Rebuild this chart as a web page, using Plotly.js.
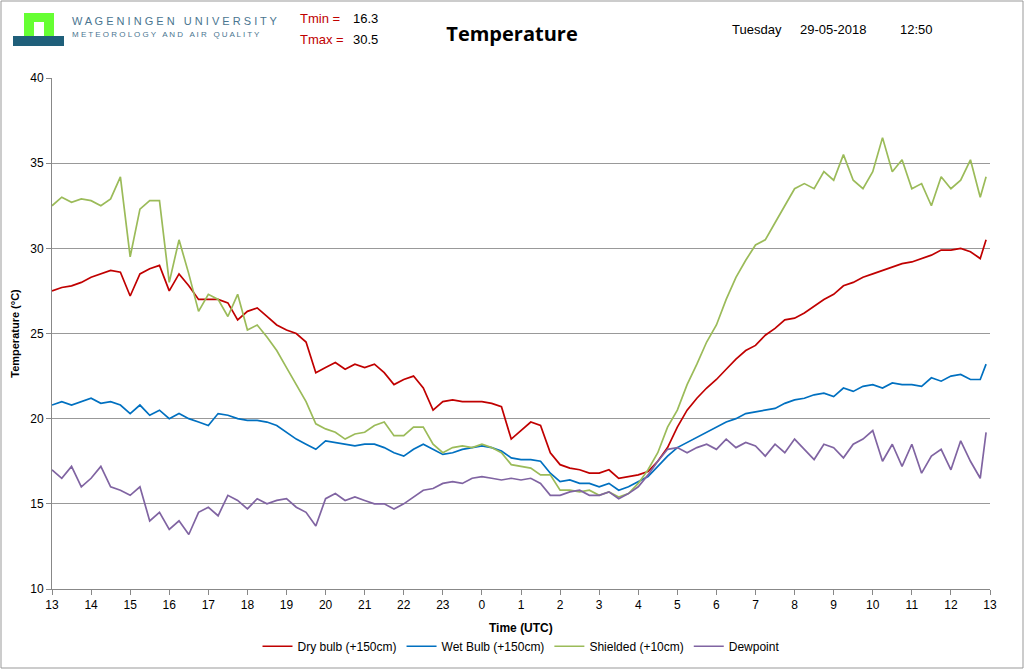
<!DOCTYPE html>
<html>
<head>
<meta charset="utf-8">
<script src="https://cdn.plot.ly/plotly-3.0.1.min.js"></script>
<style>body{margin:0;background:#fff}#chart{width:1024px;height:669px}</style>
</head>
<body>
<div id="chart"></div>
<script>
// hours since 13:00 UTC
const hours = [0,0.25,0.5,0.75,1,1.25,1.5,1.75,2,2.25,2.5,2.75,3,3.25,3.5,3.75,4,4.25,4.5,4.75,
  5,5.25,5.5,5.75,6,6.25,6.5,6.75,7,7.25,7.5,7.75,8,8.25,8.5,8.75,9,9.25,9.5,9.75,
  10,10.25,10.5,10.75,11,11.25,11.5,11.75,12,12.25,12.5,12.75,13,13.25,13.5,13.75,14,14.25,14.5,14.75,
  15,15.25,15.5,15.75,16,16.25,16.5,16.75,17,17.25,17.5,17.75,18,18.25,18.5,18.75,19,19.25,19.5,19.75,
  20,20.25,20.5,20.75,21,21.25,21.5,21.75,22,22.25,22.5,22.75,23,23.25,23.5,23.75,23.9];

const dryBulb = [27.5,27.7,27.8,28.0,28.3,28.5,28.7,28.6,27.2,28.5,28.8,29.0,27.5,28.5,27.8,27.0,27.0,27.0,26.8,25.8,
  26.3,26.5,26.0,25.5,25.2,25.0,24.5,22.7,23.0,23.3,22.9,23.2,23.0,23.2,22.7,22.0,22.3,22.5,21.8,20.5,
  21.0,21.1,21.0,21.0,21.0,20.9,20.7,18.8,19.3,19.8,19.6,18.0,17.3,17.1,17.0,16.8,16.8,17.0,16.5,16.6,
  16.7,16.9,17.5,18.3,19.5,20.5,21.2,21.8,22.3,22.9,23.5,24.0,24.3,24.9,25.3,25.8,25.9,26.2,26.6,27.0,
  27.3,27.8,28.0,28.3,28.5,28.7,28.9,29.1,29.2,29.4,29.6,29.9,29.9,30.0,29.8,29.4,30.5];

const wetBulb = [20.8,21.0,20.8,21.0,21.2,20.9,21.0,20.8,20.3,20.8,20.2,20.5,20.0,20.3,20.0,19.8,19.6,20.3,20.2,20.0,
  19.9,19.9,19.8,19.6,19.2,18.8,18.5,18.2,18.7,18.6,18.5,18.4,18.5,18.5,18.3,18.0,17.8,18.2,18.5,18.2,
  17.9,18.0,18.2,18.3,18.4,18.3,18.1,17.7,17.6,17.6,17.5,16.8,16.3,16.4,16.2,16.2,16.0,16.2,15.8,16.0,
  16.3,16.6,17.2,17.8,18.3,18.6,18.9,19.2,19.5,19.8,20.0,20.3,20.4,20.5,20.6,20.9,21.1,21.2,21.4,21.5,
  21.3,21.8,21.6,21.9,22.0,21.8,22.1,22.0,22.0,21.9,22.4,22.2,22.5,22.6,22.3,22.3,23.2];

const shielded = [32.5,33.0,32.7,32.9,32.8,32.5,32.9,34.2,29.5,32.3,32.8,32.8,28.0,30.5,28.5,26.3,27.3,27.0,26.0,27.3,
  25.2,25.5,24.8,24.0,23.0,22.0,21.0,19.7,19.4,19.2,18.8,19.1,19.2,19.6,19.8,19.0,19.0,19.5,19.5,18.5,
  18.0,18.3,18.4,18.3,18.5,18.3,18.0,17.3,17.2,17.1,16.7,16.7,15.8,15.8,15.7,15.8,15.5,15.7,15.4,15.6,
  16.2,17.0,18.0,19.5,20.5,22.0,23.2,24.5,25.5,27.0,28.3,29.3,30.2,30.5,31.5,32.5,33.5,33.8,33.5,34.5,
  34.0,35.5,34.0,33.5,34.5,36.5,34.5,35.2,33.5,33.8,32.5,34.2,33.5,34.0,35.2,33.0,34.2];

const dewpoint = [17.0,16.5,17.2,16.0,16.5,17.2,16.0,15.8,15.5,16.0,14.0,14.5,13.5,14.0,13.2,14.5,14.8,14.3,15.5,15.2,
  14.7,15.3,15.0,15.2,15.3,14.8,14.5,13.7,15.3,15.6,15.2,15.4,15.2,15.0,15.0,14.7,15.0,15.4,15.8,15.9,
  16.2,16.3,16.2,16.5,16.6,16.5,16.4,16.5,16.4,16.5,16.2,15.5,15.5,15.7,15.8,15.5,15.5,15.7,15.3,15.6,
  16.0,16.7,17.5,18.2,18.3,18.0,18.3,18.5,18.2,18.8,18.3,18.6,18.4,17.8,18.5,18.0,18.8,18.2,17.6,18.5,
  18.3,17.7,18.5,18.8,19.3,17.5,18.5,17.2,18.5,16.8,17.8,18.2,17.0,18.7,17.5,16.5,19.2];

const tickPos = [0,1,2,3,4,5,6,7,8,9,10,11,12,13,14,15,16,17,18,19,20,21,22,23,24];
const tickText = ['13','14','15','16','17','18','19','20','21','22','23','0','1','2','3','4','5','6','7','8','9','10','11','12','13'];

const names = ['Dry bulb (+150cm)', 'Wet Bulb (+150cm)', 'Shielded (+10cm)', 'Dewpoint'];
const colors = ['#c00000', '#0070c0', '#9bbb59', '#8064a2'];
const series = [dryBulb, wetBulb, shielded, dewpoint];

const traces = series.map((s, i) => ({
  x: hours, y: s, name: names[i], type: 'scatter', mode: 'lines',
  line: {color: colors[i], width: 1.7}
}));

// pixel -> paper helpers (plot area 52..990 x 78..589)
const px = v => (v - 52) / 938;
const py = v => (589 - v) / 511;

const txt = (x, y, text, opts) => Object.assign({
  xref: 'paper', yref: 'paper', x: px(x), y: py(y), text: text, showarrow: false,
  xanchor: 'left', yanchor: 'middle', font: {family: 'Liberation Sans, Arial', size: 12, color: '#000'}
}, opts || {});

const layout = {
  width: 1024, height: 669,
  margin: {l: 52, r: 34, t: 78, b: 80},
  paper_bgcolor: '#fff', plot_bgcolor: '#fff',
  font: {family: 'Liberation Sans, Arial', size: 12, color: '#000'},
  title: {text: '<b>Temperature</b>', x: 0.5, y: 0.96, xanchor: 'center', font: {size: 20, family: 'Open Sans, Liberation Sans'}},
  xaxis: {
    range: [0, 24], tickvals: tickPos, ticktext: tickText, showgrid: false, zeroline: false, automargin: false,
    showline: true, linecolor: '#888', ticks: 'outside', ticklen: 5, tickcolor: '#888'
  },
  yaxis: {
    range: [10, 40], dtick: 5, showgrid: true, gridcolor: '#999', zeroline: false, automargin: false,
    showline: true, linecolor: '#888', ticks: 'outside', ticklen: 5, tickcolor: '#888',
    title: {text: '<b>Temperature (°C)</b>', standoff: 8, font: {size: 11}}
  },
  showlegend: true,
  legend: {orientation: 'h', x: 0.5, xanchor: 'center', yref: 'container', y: 0.034, yanchor: 'middle', font: {size: 12}},
  shapes: [
    {type: 'rect', xref: 'paper', yref: 'paper', x0: px(1), x1: px(1023), y0: py(1), y1: py(668), line: {color: '#999', width: 1}},
    {type: 'rect', xref: 'paper', yref: 'paper', x0: px(24), x1: px(54), y0: py(13), y1: py(38), fillcolor: '#66ff33', line: {width: 0}},
    {type: 'rect', xref: 'paper', yref: 'paper', x0: px(34), x1: px(44), y0: py(22), y1: py(38), fillcolor: '#fff', line: {width: 0}},
    {type: 'rect', xref: 'paper', yref: 'paper', x0: px(13), x1: px(64), y0: py(36), y1: py(46), fillcolor: '#1f5f7a', line: {width: 0}}
  ],
  annotations: [
    txt(521, 628, '<b>Time (UTC)</b>', {xanchor: 'center', font: {size: 12}}),
    txt(70, 21, 'W A G E N I N G E N   U N I V E R S I T Y', {font: {size: 11, color: '#4a7590'}}),
    txt(70, 35, 'M E T E O R O L O G Y   A N D   A I R   Q U A L I T Y', {font: {size: 8, color: '#4a7590'}}),
    txt(298, 18, 'Tmin =', {font: {size: 13, color: '#c00000'}}),
    txt(351, 18, '16.3', {font: {size: 13, color: '#000'}}),
    txt(298, 40, 'Tmax =', {font: {size: 13, color: '#c00000'}}),
    txt(351, 40, '30.5', {font: {size: 13, color: '#000'}}),
    txt(730, 29, 'Tuesday', {font: {size: 13}}),
    txt(798, 29, '29-05-2018', {font: {size: 13}}),
    txt(898, 29, '12:50', {font: {size: 13}})
  ]
};

Plotly.newPlot('chart', traces, layout, {displayModeBar: false});
</script>
</body>
</html>
